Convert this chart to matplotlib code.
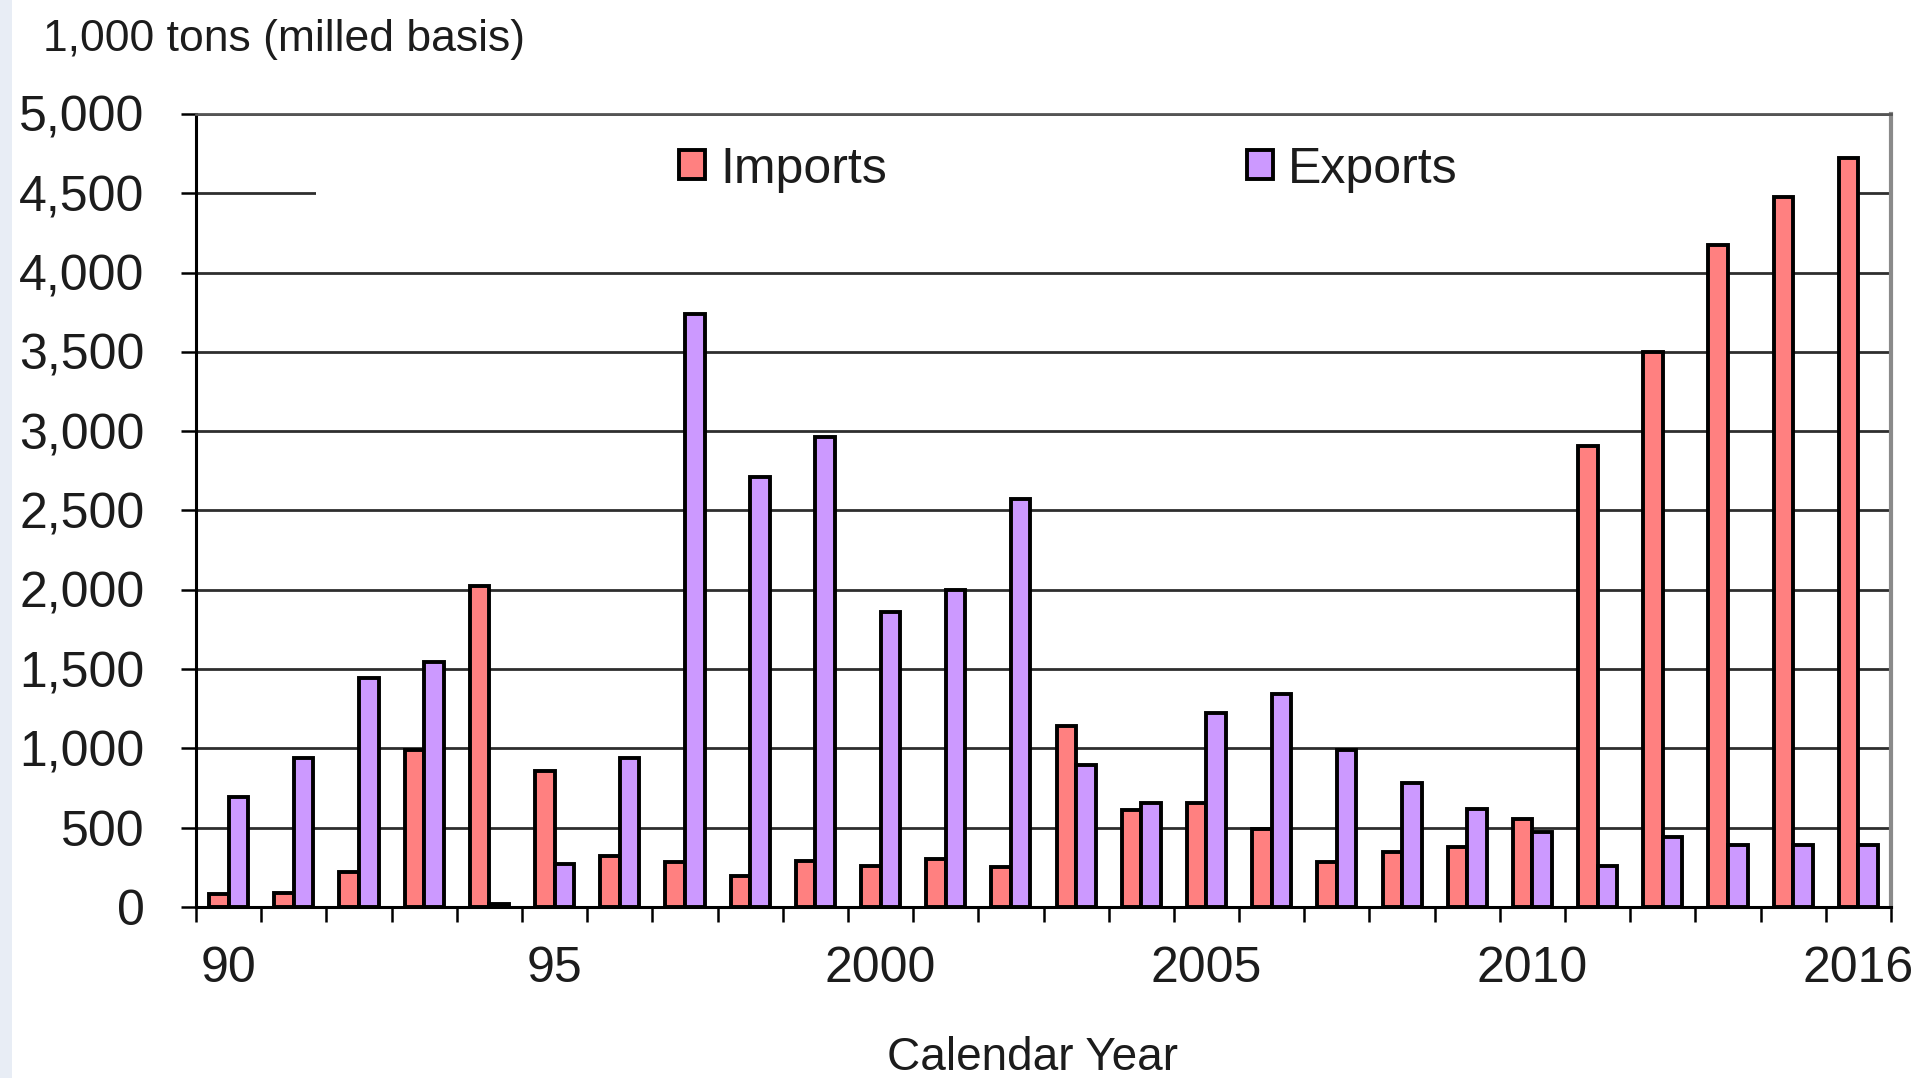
import numpy as np
import matplotlib
matplotlib.use("Agg")
from matplotlib import pyplot as plt
from matplotlib.patches import Rectangle

# data (1,000 tons, milled basis)
years = list(range(1991, 2017))
imports = [80, 91, 218, 992, 2026, 860, 324, 282, 197, 292,
           261, 303, 250, 1140, 610, 653, 494, 282, 345, 377,
           556, 2905, 3500, 4175, 4476, 4722]
exports = [695, 939, 1447, 1543, 17, 271, 939, 3737, 2710, 2962,
           1860, 1998, 2573, 896, 653, 1225, 1341, 992, 780, 621,
           476, 258, 444, 389, 389, 389]
label_idx = [0, 5, 10, 15, 20, 25]
label_txt = ["90", "95", "2000", "2005", "2010", "2016"]
yticks = list(range(0, 5001, 500))

plt.rcParams['font.family'] = ['Liberation Sans', 'DejaVu Sans']
txt_color = '#1c1c1c'

fig = plt.figure(figsize=(19.19, 10.78), dpi=100)
ax = fig.add_axes([196/1919, 1 - 907/1078, (1891-196)/1919, (907-114)/1078])

x = np.arange(len(years))
w = 0.3
ax.bar(x - w/2, imports, w, color='#FF8080', edgecolor='black', linewidth=2.8,
       label='Imports', zorder=3)
ax.bar(x + w/2, exports, w, color='#CC99FF', edgecolor='black', linewidth=2.8,
       label='Exports', zorder=3)

ax.set_xlim(-0.5, len(years) - 0.5)
ax.set_ylim(0, 5000)

# gridlines
ax.set_yticks(yticks, [f"{v:,}" for v in yticks])
ax.yaxis.grid(True, color='#2e2e2e', linewidth=2, zorder=0)
ax.set_axisbelow(True)

# white legend area hides the gridline behind it
ax.add_patch(Rectangle((0.071, 0.855), 0.905, 0.095, transform=ax.transAxes,
                       facecolor='white', edgecolor='none', zorder=1))

ax.set_xticks(label_idx, label_txt)
ax.set_xticks(np.arange(-0.5, len(years), 1.0), minor=True)
ax.tick_params(axis='x', which='major', length=0, pad=28, labelsize=36,
               labelcolor=txt_color)
ax.tick_params(axis='x', which='minor', length=11, width=1.8, color='black')
ax.tick_params(axis='y', length=11, width=1.8, pad=26, labelsize=36,
               labelcolor=txt_color)

for s in ['left', 'bottom']:
    ax.spines[s].set_color('black')
    ax.spines[s].set_linewidth(2.2)
ax.spines['top'].set_color('#555555')
ax.spines['top'].set_linewidth(2)
ax.spines['right'].set_color('#8a8a8a')
ax.spines['right'].set_linewidth(3)

leg = ax.legend(loc='center left', bbox_to_anchor=(0.285, 0.93), ncol=2,
                frameon=False, fontsize=36, handlelength=0.52, handleheight=0.52,
                handletextpad=0.3, columnspacing=7.2, borderpad=0, borderaxespad=0)
for t in leg.get_texts():
    t.set_color(txt_color)
for h in leg.legend_handles:
    h.set_linewidth(2.8)
leg.set_zorder(4)

fig.text(43/1919, 1 - 39/1078, "1,000 tons (milled basis)", fontsize=32,
         ha='left', va='center', color=txt_color)
fig.text(1032/1919, 1 - 1058/1078, "Calendar Year", fontsize=33,
         ha='center', va='center', color=txt_color)

# light strip on the left edge of the picture
fig.patches.append(Rectangle((0, 0), 12/1919, 1, transform=fig.transFigure,
                             facecolor='#e8edf5', edgecolor='none'))

fig.savefig("out.png", dpi=100)
